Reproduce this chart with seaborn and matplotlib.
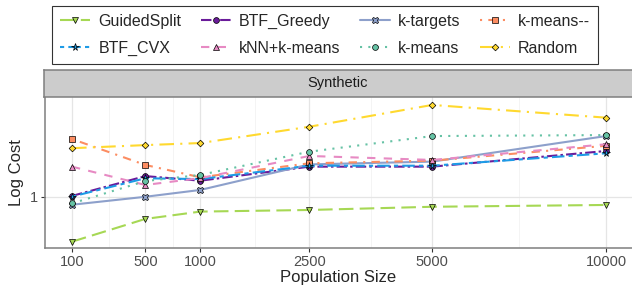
import numpy as np
import pandas as pd
import matplotlib
matplotlib.use("Agg")
import matplotlib.pyplot as plt
from matplotlib.lines import Line2D
import seaborn as sns

sizes = [100, 500, 1000, 2500, 5000, 10000]

# cost per method (log scale, 1 = reference)
guided_split = [0.814, 0.904, 0.935, 0.942, 0.956, 0.964]
btf_greedy = [1.005, 1.101, 1.078, 1.150, 1.150, 1.236]
k_targets = [0.965, 1.001, 1.033, 1.162, 1.177, 1.324]
k_means_mm = [1.306, 1.159, 1.095, 1.168, 1.182, 1.266]
btf_cvx = [1.002, 1.090, 1.086, 1.155, 1.155, 1.223]
knn_k_means = [1.150, 1.057, 1.091, 1.208, 1.186, 1.275]
k_means = [0.971, 1.076, 1.107, 1.232, 1.324, 1.330]
random_ = [1.252, 1.270, 1.282, 1.382, 1.528, 1.441]

methods = ["GuidedSplit", "BTF_Greedy", "k-targets", "k-means--",
           "BTF_CVX", "kNN+k-means", "k-means", "Random"]
values = [guided_split, btf_greedy, k_targets, k_means_mm,
          btf_cvx, knn_k_means, k_means, random_]

rows = []
for m, vals in zip(methods, values):
    for s, v in zip(sizes, vals):
        rows.append({"size": s, "cost": v, "method": m})
df = pd.DataFrame(rows)

colors = {"GuidedSplit": "#A6D854", "BTF_Greedy": "#6A1B9A",
          "k-targets": "#8DA0CB", "k-means--": "#FC8D62",
          "BTF_CVX": "#1E9BE6", "kNN+k-means": "#E78AC3",
          "k-means": "#66C2A5", "Random": "#FFD92F"}
markers = {"GuidedSplit": "v", "BTF_Greedy": "o", "k-targets": "X",
           "k-means--": "s", "BTF_CVX": "*", "kNN+k-means": "^",
           "k-means": "o", "Random": "D"}
msize = {"GuidedSplit": 4.5, "BTF_Greedy": 4.2, "k-targets": 4.5,
         "k-means--": 4.0, "BTF_CVX": 5.5, "kNN+k-means": 4.5,
         "k-means": 4.2, "Random": 3.4}
dashes = {"GuidedSplit": (7, 3), "BTF_Greedy": (5, 1.5, 1.2, 1.5),
          "k-targets": "", "k-means--": (1, 3, 4, 3),
          "BTF_CVX": (2, 2, 6, 2), "kNN+k-means": (4, 4),
          "k-means": (1, 3), "Random": (7, 3, 1, 3)}

sns.set_style("white")
plt.rcParams["font.family"] = ["Liberation Sans", "DejaVu Sans"]

fig = plt.figure(figsize=(6.32, 2.87), dpi=100)
ax = fig.add_axes([45 / 632, 39 / 287, 587 / 632, 151 / 287])

sns.lineplot(data=df, x="size", y="cost", hue="method", style="method",
             hue_order=methods, style_order=methods,
             palette=colors, markers=markers, dashes=dashes, ax=ax,
             linewidth=1.5, markeredgecolor="black",
             markeredgewidth=0.5, legend=False)
# marker sizes per method (lines come in hue order)
for line, m in zip(ax.lines, methods):
    line.set_markersize(msize[m])

ax.set_xscale("function", functions=(np.sqrt, np.square))
ax.set_yscale("log")
ax.set_xlim(29.7, 10895)
ax.set_ylim(10 ** -0.102, 10 ** 0.2)

ax.set_xticks(sizes)
ax.set_xticklabels([str(s) for s in sizes])
root = np.sqrt(sizes)
ax.set_xticks(((root[:-1] + root[1:]) / 2) ** 2, minor=True)
ax.set_yticks([1])
ax.set_yticklabels(["1"])
ax.set_yticks([], minor=True)

ax.grid(which="major", color="#E5E5E5", linewidth=0.9)
ax.grid(which="minor", axis="x", color="#F2F2F2", linewidth=0.6)
ax.set_axisbelow(True)
for side in ["top", "right"]:
    ax.spines[side].set_visible(False)
for side in ["left", "bottom"]:
    ax.spines[side].set_color("#7F7F7F")
    ax.spines[side].set_linewidth(1.1)
ax.tick_params(axis="both", which="major", length=3, color="#333333",
               labelsize=10.5, labelcolor="#4D4D4D", pad=2, bottom=True, left=True)
ax.tick_params(axis="x", which="minor", length=0)

ax.set_xlabel("Population Size", fontsize=12, labelpad=1)
ax.set_ylabel("Log Cost", fontsize=12, labelpad=4)

# facet strip
strip = fig.add_axes([44 / 632, 190 / 287, 588 / 632, 27 / 287])
strip.set_facecolor("#CCCCCC")
strip.set_xticks([])
strip.set_yticks([])
for side in ["left", "top", "bottom"]:
    strip.spines[side].set_color("#7F7F7F")
    strip.spines[side].set_linewidth(1.1)
strip.spines["right"].set_visible(False)
strip.text(0.5, 0.5, "Synthetic", ha="center", va="center", fontsize=10.5,
           color="#1A1A1A", transform=strip.transAxes)

# legend, row-wise order
order = ["GuidedSplit", "BTF_CVX", "BTF_Greedy", "kNN+k-means",
         "k-targets", "k-means", "k-means--", "Random"]
handles = []
for m in order:
    h = Line2D([], [], color=colors[m], marker=markers[m], linewidth=1.5,
               markersize=msize[m], markeredgecolor="black",
               markeredgewidth=0.5)
    if dashes[m]:
        h.set_dashes(dashes[m])
    handles.append(h)
leg = fig.legend(handles, order, ncol=4, loc="center",
                 bbox_to_anchor=(325 / 632, 1 - 35 / 287), fontsize=11.5,
                 frameon=True, fancybox=False, handlelength=1.9,
                 handletextpad=0.5, columnspacing=1.2, labelspacing=0.75,
                 borderpad=0.5)
leg.get_frame().set_edgecolor("black")
leg.get_frame().set_linewidth(0.8)

fig.savefig("out.png", dpi=100)
